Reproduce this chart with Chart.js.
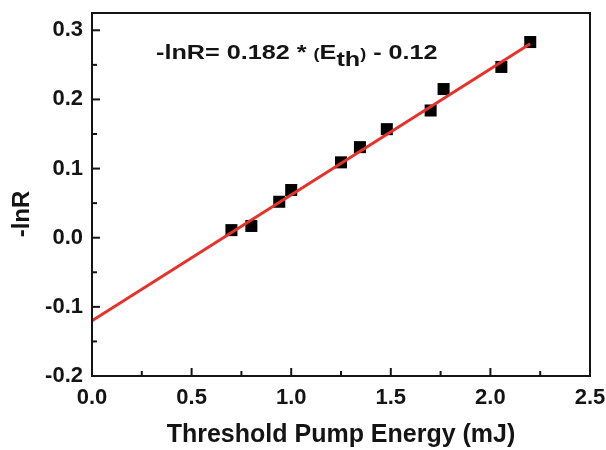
<!DOCTYPE html>
<html>
<head>
<meta charset="utf-8">
<script src="https://cdn.jsdelivr.net/npm/chart.js@4/dist/chart.umd.min.js"></script>
<style>
  html, body { margin: 0; padding: 0; background: #fff; }
  canvas { display: block; }
</style>
</head>
<body>
<canvas id="chart" width="606" height="450"></canvas>
<script>
// Measured points (threshold pump energy in mJ, -lnR)
const energyMJ = [0.70, 0.80, 0.94, 1.00, 1.25, 1.345, 1.48, 1.70, 1.765, 2.055, 2.20];
const negLnR = [0.011, 0.017, 0.052, 0.069, 0.109, 0.131, 0.157, 0.184, 0.215, 0.247, 0.283];

// Linear fit end points: -lnR = 0.182 * Eth - 0.12
const fitX = [0, 2.2];
const fitY = [-0.12, 0.2804];

const xTicks = [0, 0.5, 1.0, 1.5, 2.0, 2.5];
const yTicks = [-0.2, -0.1, 0.0, 0.1, 0.2, 0.3];

const FONT = "'Liberation Sans', Arial, sans-serif";
const INK = "#141414";

const toPoints = (xs, ys) => xs.map((x, i) => ({ x, y: ys[i] }));

// inward major/minor ticks + frame around plot
const frameTicks = {
  id: "frameTicks",
  afterDatasetsDraw(chart) {
    const { ctx, chartArea: a, scales } = chart;
    ctx.save();
    ctx.strokeStyle = INK;
    ctx.lineWidth = 2;
    ctx.strokeRect(a.left, a.top, a.right - a.left, a.bottom - a.top);

    const xs = scales.x;
    xTicks.forEach((v, i) => {
      const px = xs.getPixelForValue(v);
      ctx.beginPath();
      ctx.moveTo(px, a.bottom);
      ctx.lineTo(px, a.bottom - 8);
      ctx.stroke();
      if (i < xTicks.length - 1) {
        const mx = xs.getPixelForValue((v + xTicks[i + 1]) / 2);
        ctx.beginPath();
        ctx.moveTo(mx, a.bottom);
        ctx.lineTo(mx, a.bottom - 5);
        ctx.stroke();
      }
    });

    const ys = scales.y;
    yTicks.forEach((v, i) => {
      const py = ys.getPixelForValue(v);
      ctx.beginPath();
      ctx.moveTo(a.left, py);
      ctx.lineTo(a.left + 8, py);
      ctx.stroke();
      if (i < yTicks.length - 1) {
        const my = ys.getPixelForValue((v + yTicks[i + 1]) / 2);
        ctx.beginPath();
        ctx.moveTo(a.left, my);
        ctx.lineTo(a.left + 5, my);
        ctx.stroke();
      }
    });
    ctx.restore();
  },
};

// fit equation text inside the plot, and the y axis title
const labels = {
  id: "labels",
  afterDraw(chart) {
    const { ctx } = chart;
    ctx.save();
    ctx.fillStyle = INK;
    ctx.textBaseline = "alphabetic";
    ctx.translate(156, 59);
    ctx.scale(1.2, 1);
    let x = 0;
    const put = (text, size, dy) => {
      ctx.font = `bold ${size}px ${FONT}`;
      ctx.fillText(text, x, dy || 0);
      x += ctx.measureText(text).width;
    };
    put("-lnR= 0.182 * ", 21);
    put("(", 15);
    put("E", 21);
    put("th", 21, 7);
    put(")", 15);
    put(" - 0.12", 21);
    ctx.restore();

    ctx.save();
    ctx.fillStyle = INK;
    ctx.font = `bold 24px ${FONT}`;
    ctx.textAlign = "center";
    ctx.textBaseline = "middle";
    ctx.translate(22, 214);
    ctx.rotate(-Math.PI / 2);
    ctx.fillText("-lnR", 0, 0);
    ctx.restore();
  },
};

new Chart(document.getElementById("chart"), {
  type: "scatter",
  data: {
    datasets: [
      {
        label: "fit",
        data: toPoints(fitX, fitY),
        showLine: true,
        borderColor: "#e5322b",
        borderWidth: 3,
        pointRadius: 0,
        fill: false,
      },
      {
        label: "data",
        data: toPoints(energyMJ, negLnR),
        pointStyle: "rect",
        pointRadius: 8.5,
        pointBackgroundColor: "#000",
        pointBorderWidth: 0,
      },
    ],
  },
  options: {
    responsive: false,
    animation: false,
    layout: { padding: { top: 13, right: 16, left: 0, bottom: 0 } },
    plugins: {
      legend: { display: false },
      tooltip: { enabled: false },
    },
    scales: {
      x: {
        type: "linear",
        min: 0,
        max: 2.5,
        afterBuildTicks: (s) => { s.ticks = xTicks.map((v) => ({ value: v })); },
        afterFit: (s) => { s.height = 74; s.paddingLeft = 0; s.paddingRight = 0; },
        grid: { display: false, drawTicks: false },
        border: { display: true, color: INK, width: 2 },
        ticks: {
          padding: 9,
          color: INK,
          font: { family: FONT, size: 22, weight: "bold" },
          callback: (v) => Number(v).toFixed(1),
        },
        title: {
          display: true,
          text: "Threshold Pump Energy (mJ)",
          color: INK,
          font: { family: FONT, size: 25, weight: "bold" },
          padding: { top: 9, bottom: 0 },
        },
      },
      y: {
        type: "linear",
        min: -0.2,
        max: 0.325,
        afterBuildTicks: (s) => { s.ticks = yTicks.map((v) => ({ value: v })); },
        afterFit: (s) => { s.width = 92; s.paddingTop = 0; s.paddingBottom = 0; },
        grid: { display: false, drawTicks: false },
        border: { display: true, color: INK, width: 2 },
        ticks: {
          padding: 9,
          color: INK,
          font: { family: FONT, size: 22, weight: "bold" },
          callback: (v) => Number(v).toFixed(1),
        },
      },
    },
  },
  plugins: [frameTicks, labels],
});
</script>
</body>
</html>
